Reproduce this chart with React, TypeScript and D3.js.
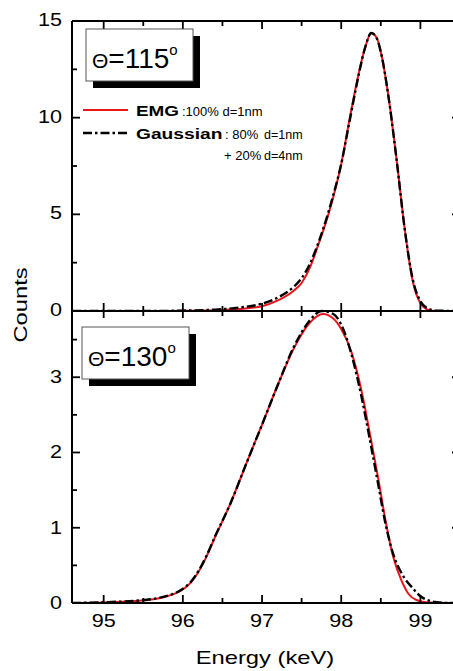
import React from "react";
import * as d3 from "d3";

// Energy axis ticks (keV)
const ENERGY_MAJOR = [95, 96, 97, 98, 99];
const ENERGY_MINOR = [95.5, 96.5, 97.5, 98.5];

// Counts axis ticks for each panel
const TOP_MAJOR = [0, 5, 10, 15];
const TOP_MINOR = [2.5, 7.5, 12.5];
const TOP_LABELS = ["0", "5", "10", "15"];
const BOT_MAJOR = [0, 1, 2, 3];
const BOT_MINOR = [0.5, 1.5, 2.5, 3.5];
const BOT_LABELS = ["0", "1", "2", "3"];

// Θ = 115°: EMG fit (100% d=1nm)
const emg115E = [94.6, 95.5, 96.0, 96.4, 96.7, 97.0, 97.2, 97.4, 97.5, 97.6, 97.7, 97.8, 97.9, 98.0, 98.1, 98.2, 98.3, 98.38, 98.45, 98.5, 98.6, 98.7, 98.8, 98.9, 99.0, 99.1, 99.2, 99.5];
const emg115C = [0, 0, 0.01, 0.04, 0.1, 0.25, 0.55, 1.05, 1.45, 2.2, 3.3, 4.5, 5.9, 7.6, 9.8, 11.9, 13.6, 14.38, 14.1, 13.4, 11.0, 7.8, 4.3, 1.6, 0.4, 0.06, 0, 0];

// Θ = 115°: Gaussian fit (80% d=1nm + 20% d=4nm)
const gau115E = [94.6, 95.5, 96.0, 96.4, 96.7, 97.0, 97.2, 97.4, 97.5, 97.6, 97.7, 97.8, 97.9, 98.0, 98.1, 98.2, 98.3, 98.38, 98.45, 98.5, 98.6, 98.7, 98.8, 98.9, 99.0, 99.1, 99.2, 99.5];
const gau115C = [0, 0, 0.02, 0.07, 0.17, 0.38, 0.7, 1.25, 1.7, 2.4, 3.4, 4.6, 6.0, 7.6, 9.7, 11.8, 13.6, 14.38, 14.1, 13.4, 11.0, 7.8, 4.3, 1.7, 0.5, 0.12, 0.02, 0];

// Θ = 130°: EMG fit
const emg130E = [94.6, 95.0, 95.4, 95.6, 95.7, 95.8, 95.9, 96.0, 96.1, 96.2, 96.3, 96.4, 96.6, 96.8, 97.0, 97.2, 97.4, 97.6, 97.77, 97.9, 98.0, 98.13, 98.26, 98.36, 98.47, 98.55, 98.66, 98.76, 98.85, 98.95, 99.1, 99.5];
const emg130C = [0, 0.006, 0.025, 0.045, 0.062, 0.09, 0.125, 0.18, 0.27, 0.42, 0.62, 0.86, 1.32, 1.85, 2.37, 2.9, 3.38, 3.72, 3.84, 3.78, 3.64, 3.33, 2.8, 2.26, 1.64, 1.15, 0.6, 0.3, 0.12, 0.04, 0.005, 0];

// Θ = 130°: Gaussian fit
const gau130E = [94.6, 95.0, 95.4, 95.6, 95.7, 95.8, 95.9, 96.0, 96.1, 96.2, 96.3, 96.4, 96.6, 96.8, 97.0, 97.2, 97.4, 97.6, 97.75, 97.9, 98.0, 98.13, 98.26, 98.36, 98.47, 98.55, 98.66, 98.76, 98.9, 99.0, 99.1, 99.2, 99.35, 99.5];
const gau130C = [0, 0.01, 0.03, 0.05, 0.068, 0.095, 0.13, 0.19, 0.28, 0.43, 0.63, 0.87, 1.32, 1.85, 2.37, 2.9, 3.4, 3.75, 3.88, 3.84, 3.7, 3.3, 2.72, 2.18, 1.56, 1.1, 0.64, 0.4, 0.2, 0.09, 0.035, 0.012, 0, 0];

const FONT = "'Liberation Sans', Arial, Helvetica, sans-serif";
const RED = "#e8161c";
const DASH = "9,3,2.5,3";

const W = 453;
const H = 671;
const LEFT = 72;
const RIGHT = 460;
const TOP = 21;
const MID = 311;
const BOTTOM = 603;

const x = d3.scaleLinear().domain([94.6, 99.5]).range([LEFT, RIGHT]);
const yTop = d3.scaleLinear().domain([0, 15]).range([MID, TOP]);
const yBot = d3.scaleLinear().domain([0, 3.88]).range([BOTTOM, MID]);

function pathFor(E: number[], C: number[], y: d3.ScaleLinear<number, number>) {
  const pts = E.map((e, i) => [e, C[i]] as [number, number]);
  return (
    d3
      .line<[number, number]>()
      .x((d) => x(d[0]))
      .y((d) => y(d[1]))
      .curve(d3.curveMonotoneX)(pts) || ""
  );
}

function SText(props: {
  x: number;
  y: number;
  sx?: number;
  rotate?: number;
  anchor?: string;
  size: number;
  weight?: string;
  children: React.ReactNode;
}) {
  const { sx = 1, rotate = 0 } = props;
  return (
    <text
      transform={`translate(${props.x},${props.y}) rotate(${rotate}) scale(${sx},1)`}
      textAnchor={props.anchor || "start"}
      fontSize={props.size}
      fontWeight={props.weight || "normal"}
      fontFamily={FONT}
      fill="#000"
    >
      {props.children}
    </text>
  );
}

function AngleBox(props: { bx: number; by: number; label: string }) {
  const { bx, by, label } = props;
  const bw = 107;
  const bh = 52;
  return (
    <g>
      <rect x={bx + 7} y={by + 7} width={bw} height={bh} fill="#000" />
      <rect x={bx} y={by} width={bw} height={bh} fill="#fff" stroke="#555" strokeWidth={1} />
      <text x={bx + 6} y={by + 39} fontFamily={FONT} fill="#000">
        <tspan fontSize={21}>Θ</tspan>
        <tspan fontSize={28}>={label}</tspan>
        <tspan fontSize={15} dy={-13}>o</tspan>
      </text>
    </g>
  );
}

export default function App() {
  const tickStroke = { stroke: "#000", strokeWidth: 1.8 };
  return (
    <svg
      width={W}
      height={H}
      style={{ position: "absolute", left: 0, top: 0, display: "block", background: "#fff" }}
    >
      <defs>
        <clipPath id="clipTop">
          <rect x={LEFT} y={TOP - 2} width={RIGHT - LEFT} height={MID - TOP + 2} />
        </clipPath>
        <clipPath id="clipBot">
          <rect x={LEFT} y={MID - 2} width={RIGHT - LEFT} height={BOTTOM - MID + 2} />
        </clipPath>
      </defs>

      {/* curves */}
      <g clipPath="url(#clipTop)" fill="none">
        <path d={pathFor(emg115E, emg115C, yTop)} stroke={RED} strokeWidth={2} />
        <path d={pathFor(gau115E, gau115C, yTop)} stroke="#000" strokeWidth={2.4} strokeDasharray={DASH} />
      </g>
      <g clipPath="url(#clipBot)" fill="none">
        <path d={pathFor(emg130E, emg130C, yBot)} stroke={RED} strokeWidth={2} />
        <path d={pathFor(gau130E, gau130C, yBot)} stroke="#000" strokeWidth={2.4} strokeDasharray={DASH} />
      </g>

      {/* frame */}
      <g stroke="#000" strokeWidth={2} fill="none">
        <line x1={LEFT} x2={RIGHT} y1={TOP} y2={TOP} />
        <line x1={LEFT} x2={RIGHT} y1={MID} y2={MID} />
        <line x1={LEFT} x2={RIGHT} y1={BOTTOM} y2={BOTTOM} />
        <line x1={LEFT} x2={LEFT} y1={TOP} y2={BOTTOM} />
        <line x1={RIGHT} x2={RIGHT} y1={TOP} y2={BOTTOM} />
      </g>

      {/* energy ticks on top, middle and bottom edges */}
      <g {...tickStroke}>
        {ENERGY_MAJOR.map((e) => (
          <g key={"M" + e}>
            <line x1={x(e)} x2={x(e)} y1={TOP} y2={TOP + 8} />
            <line x1={x(e)} x2={x(e)} y1={MID - 8} y2={MID + 7} />
            <line x1={x(e)} x2={x(e)} y1={BOTTOM} y2={BOTTOM - 8} />
          </g>
        ))}
        {ENERGY_MINOR.map((e) => (
          <g key={"m" + e}>
            <line x1={x(e)} x2={x(e)} y1={TOP} y2={TOP + 5} />
            <line x1={x(e)} x2={x(e)} y1={MID - 5} y2={MID + 5} />
            <line x1={x(e)} x2={x(e)} y1={BOTTOM} y2={BOTTOM - 5} />
          </g>
        ))}
      </g>

      {/* counts ticks on left and right edges */}
      <g {...tickStroke}>
        {TOP_MAJOR.map((v) => (
          <g key={"tM" + v}>
            <line x1={LEFT} x2={LEFT + 8} y1={yTop(v)} y2={yTop(v)} />
            <line x1={RIGHT} x2={RIGHT - 8} y1={yTop(v)} y2={yTop(v)} />
          </g>
        ))}
        {TOP_MINOR.map((v) => (
          <g key={"tm" + v}>
            <line x1={LEFT} x2={LEFT + 5} y1={yTop(v)} y2={yTop(v)} />
            <line x1={RIGHT} x2={RIGHT - 5} y1={yTop(v)} y2={yTop(v)} />
          </g>
        ))}
        {BOT_MAJOR.map((v) => (
          <g key={"bM" + v}>
            <line x1={LEFT} x2={LEFT + 8} y1={yBot(v)} y2={yBot(v)} />
            <line x1={RIGHT} x2={RIGHT - 8} y1={yBot(v)} y2={yBot(v)} />
          </g>
        ))}
        {BOT_MINOR.map((v) => (
          <g key={"bm" + v}>
            <line x1={LEFT} x2={LEFT + 5} y1={yBot(v)} y2={yBot(v)} />
            <line x1={RIGHT} x2={RIGHT - 5} y1={yBot(v)} y2={yBot(v)} />
          </g>
        ))}
      </g>

      {/* tick labels */}
      {TOP_MAJOR.map((v, i) => (
        <SText key={"tl" + v} x={62} y={yTop(v) + 5} anchor="end" size={18} sx={1.2}>
          {TOP_LABELS[i]}
        </SText>
      ))}
      {BOT_MAJOR.map((v, i) => (
        <SText key={"bl" + v} x={62} y={yBot(v) + 6} anchor="end" size={18} sx={1.2}>
          {BOT_LABELS[i]}
        </SText>
      ))}
      {ENERGY_MAJOR.map((e) => (
        <SText key={"xl" + e} x={x(e)} y={627} anchor="middle" size={18} sx={1.2}>
          {String(e)}
        </SText>
      ))}

      {/* axis titles */}
      <SText x={265} y={664} anchor="middle" size={19} sx={1.25}>
        Energy (keV)
      </SText>
      <SText x={27} y={305} anchor="middle" size={19} sx={1.25} rotate={-90}>
        Counts
      </SText>

      {/* angle labels */}
      <AngleBox bx={86} by={29} label="115" />
      <AngleBox bx={82} by={327} label="130" />

      {/* legend */}
      <line x1={83} x2={128} y1={110} y2={110} stroke={RED} strokeWidth={2} />
      <line x1={83} x2={128} y1={133} y2={133} stroke="#000" strokeWidth={2.4} strokeDasharray={DASH} />
      <SText x={136} y={115.5} size={15.5} weight="bold" sx={1.22}>EMG</SText>
      <SText x={182} y={115.5} size={13}>:100% d=1nm</SText>
      <SText x={136} y={139} size={15.5} weight="bold" sx={1.24}>Gaussian</SText>
      <SText x={225} y={139} size={13}>: 80%</SText>
      <SText x={264} y={139} size={12.5}>d=1nm</SText>
      <SText x={224} y={160} size={13}>+ 20%</SText>
      <SText x={264} y={160} size={12.5}>d=4nm</SText>
    </svg>
  );
}
